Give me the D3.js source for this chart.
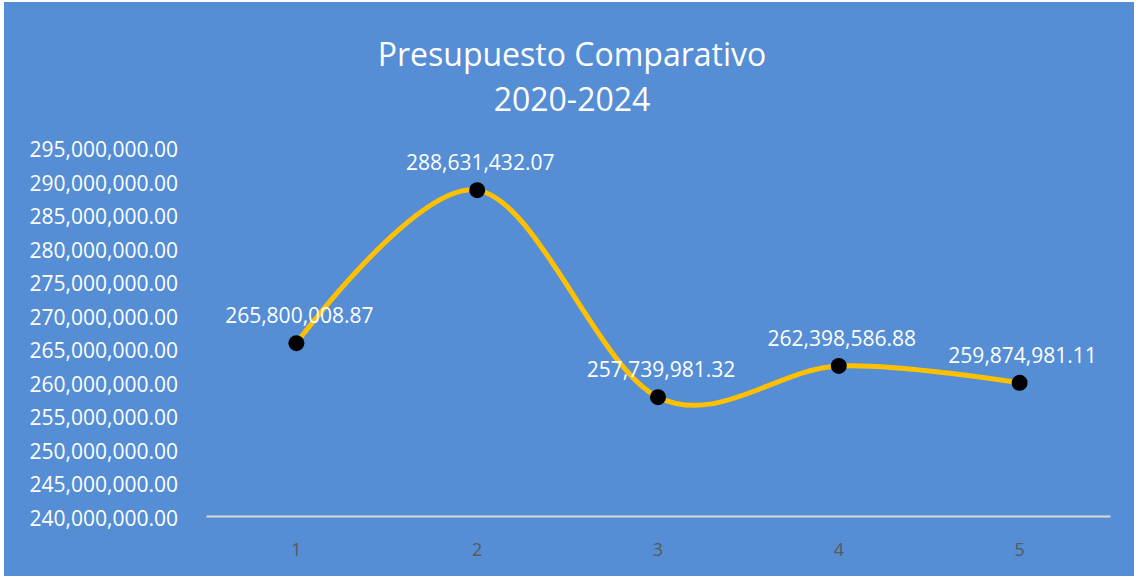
<!DOCTYPE html>
<html>
<head>
<meta charset="utf-8">
<script src="https://cdn.jsdelivr.net/npm/d3@7"></script>
<style>
  body { margin: 0; background: #fff; }
  text { font-family: "Open Sans", "Noto Sans", sans-serif; }
</style>
</head>
<body>
<svg id="chart" width="1138" height="578"></svg>
<script>
// data
const categories = ["1", "2", "3", "4", "5"];
const values = [265800008.87, 288631432.07, 257739981.32, 262398586.88, 259874981.11];
const yTicks = d3.range(240000000, 295000001, 5000000);
const titleLines = ["Presupuesto Comparativo", "2020-2024"];

const W = 1138, H = 578;
const margin = { top: 147.5, right: 28, bottom: 62, left: 206 };

const svg = d3.select("#chart");

// chart area background
svg.append("rect")
  .attr("x", 4).attr("y", 2)
  .attr("width", W - 8).attr("height", H - 4)
  .attr("fill", "#558ed5");

const x = d3.scaleBand()
  .domain(categories)
  .range([margin.left, W - margin.right]);

const y = d3.scaleLinear()
  .domain([240000000, 295000000])
  .range([H - margin.bottom, margin.top]);

const fmt = d3.format(",.2f");

// title
svg.append("text")
  .attr("text-anchor", "middle")
  .attr("fill", "#fff")
  .attr("font-size", 32)
  .selectAll("tspan")
  .data(titleLines)
  .join("tspan")
  .attr("x", 572)
  .attr("y", (d, i) => 66 + i * 45)
  .text(d => d);

// y axis labels
const yAxis = svg.append("g")
  .attr("transform", `translate(${margin.left},0)`)
  .call(d3.axisLeft(y).tickValues(yTicks).tickFormat(fmt).tickSize(0).tickPadding(28));
yAxis.select(".domain").remove();
yAxis.selectAll("text")
  .attr("fill", "#fff")
  .attr("font-size", 21)
  .attr("font-family", "\"Open Sans\", sans-serif")
  .attr("dy", "0.45em");

// x axis
const xAxis = svg.append("g")
  .attr("transform", `translate(0,${H - margin.bottom})`)
  .call(d3.axisBottom(x).tickSize(0).tickPadding(27));
xAxis.select(".domain")
  .attr("stroke", "#d9d9d9")
  .attr("stroke-width", 2);
xAxis.selectAll("text")
  .attr("fill", "#595959")
  .attr("font-size", 18)
  .attr("font-family", "\"Open Sans\", sans-serif");

const cx = d => x(d) + x.bandwidth() / 2;

// smoothed line
const line = d3.line()
  .x((d, i) => cx(categories[i]))
  .y(d => y(d))
  .curve(d3.curveCardinal.tension(0));

svg.append("path")
  .datum(values)
  .attr("d", line)
  .attr("fill", "none")
  .attr("stroke", "#ffc000")
  .attr("stroke-width", 5)
  .attr("stroke-linecap", "round");

// markers
svg.append("g")
  .selectAll("circle")
  .data(values)
  .join("circle")
  .attr("cx", (d, i) => cx(categories[i]))
  .attr("cy", d => y(d))
  .attr("r", 8)
  .attr("fill", "#000");

// data labels
svg.append("g")
  .selectAll("text")
  .data(values)
  .join("text")
  .attr("x", (d, i) => cx(categories[i]) + 3)
  .attr("y", d => y(d) - 20)
  .attr("text-anchor", "middle")
  .attr("fill", "#fff")
  .attr("font-size", 21)
  .text(d => fmt(d));
</script>
</body>
</html>
